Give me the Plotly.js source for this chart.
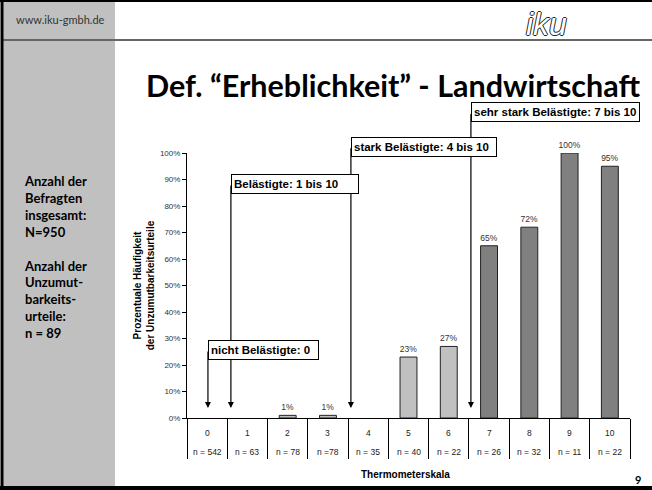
<!DOCTYPE html>
<html>
<head>
<meta charset="utf-8">
<script src="https://cdn.plot.ly/plotly-3.0.1.min.js"></script>
<style>
  html, body { margin: 0; padding: 0; background: #ffffff; }
  #chart { width: 652px; height: 490px; }
</style>
</head>
<body>
<div id="chart"></div>
<script>
// ---- data ----
const categories = ['0', '1', '2', '3', '4', '5', '6', '7', '8', '9', '10'];
const values = [0, 0, 1, 1, 0, 23, 27, 65, 72, 100, 95];
const sampleSizes = ['n = 542', 'n = 63', 'n = 78', 'n =78', 'n = 35', 'n = 40', 'n = 22', 'n = 26', 'n = 32', 'n = 11', 'n = 22'];
const groupLabels = ['nicht Belästigte: 0', 'Belästigte: 1 bis 10', 'stark Belästigte: 4 bis 10', 'sehr stark Belästigte: 7 bis 10'];
const yTicks = [0, 10, 20, 30, 40, 50, 60, 70, 80, 90, 100];
const yTickLabels = ['0%', '10%', '20%', '30%', '40%', '50%', '60%', '70%', '80%', '90%', '100%'];
const titleText = 'Def. “Erheblichkeit” - Landwirtschaft';
const yTitle = 'Prozentuale Häufigkeit<br>der Unzumutbarkeitsurteile';
const xTitle = 'Thermometerskala';
const sideText = 'Anzahl der<br>Befragten<br>insgesamt:<br>N=950<br><br>Anzahl der<br>Unzumut-<br>barkeits-<br>urteile:<br>n = 89';
const siteText = 'www.iku-gmbh.de';
const pageNo = '9';

// ---- layout constants (positions / styles) ----
const W = 652, H = 490;
const M = { l: 187, r: 22, t: 153, b: 72 };
const PW = W - M.l - M.r, PH = H - M.t - M.b;
const fx = px => (px - M.l) / PW;
const fy = py => (H - M.b - py) / PH;

const arrowX = [0.02, 0.59, 3.57, 6.55];      // arrow positions in category units
const boxY = [25.7, 88.3, 102.4, 115.3];      // box centres in % of the y range
const boxW = [111, 128, 146, 169];            // box widths in px
const arrowTipY = 3.8;

const SANS = 'Liberation Sans, Arial, sans-serif';
const SERIF = 'Lato, Noto Sans, sans-serif';
const light = '#C0C0C0', dark = '#808080';

const trace = {
  type: 'bar',
  x: categories,
  y: values,
  text: values.map(v => v > 0 ? v + '%' : ''),
  textposition: 'outside',
  constraintext: 'none',
  textfont: { family: SANS, size: 8.5, color: '#333333' },
  cliponaxis: false,
  width: 0.42,
  marker: {
    color: categories.map((c, i) => i >= 7 ? dark : light),
    line: { color: '#222222', width: values.map(v => v > 0 ? 1 : 0) }
  },
  hoverinfo: 'skip'
};

const annotations = [];
// arrows
groupLabels.forEach((g, i) => {
  annotations.push({
    x: arrowX[i], y: arrowTipY, xref: 'x', yref: 'y',
    ax: arrowX[i], ay: boxY[i], axref: 'x', ayref: 'y',
    text: '', showarrow: true, arrowhead: 2, arrowsize: 1, arrowwidth: 1.2,
    arrowcolor: '#000000', standoff: 0, startstandoff: 0
  });
});
// boxes
groupLabels.forEach((g, i) => {
  annotations.push({
    x: arrowX[i], y: boxY[i] / 100, xref: 'x', yref: 'paper',
    xanchor: 'left', yanchor: 'middle', align: 'left',
    text: '<b>' + g + '</b>', showarrow: false,
    width: boxW[i] - 6, height: 14,
    bgcolor: '#ffffff', bordercolor: '#000000', borderwidth: 1, borderpad: 2,
    font: { family: SANS, size: 11.5, color: '#000000' }
  });
});
// category table
categories.forEach((c, i) => {
  annotations.push({
    x: i, y: fy(433), xref: 'x', yref: 'paper', yanchor: 'middle',
    text: c, showarrow: false, font: { family: SANS, size: 8.5, color: '#222222' }
  });
  annotations.push({
    x: i, y: fy(452), xref: 'x', yref: 'paper', yanchor: 'middle',
    text: sampleSizes[i], showarrow: false, font: { family: SANS, size: 8.5, color: '#222222' }
  });
});
// x title
annotations.push({
  x: fx(405), y: fy(474), xref: 'paper', yref: 'paper', yanchor: 'middle',
  text: '<b>' + xTitle + '</b>', showarrow: false,
  font: { family: SANS, size: 10, color: '#000000' }
});
// slide title
annotations.push({
  x: fx(393), y: fy(85), xref: 'paper', yref: 'paper', yanchor: 'middle',
  text: '<b>' + titleText + '</b>', showarrow: false,
  font: { family: SERIF, size: 30.5, color: '#000000' }
});
// side panel text
annotations.push({
  x: fx(22), y: fy(171), xref: 'paper', yref: 'paper', xanchor: 'left', yanchor: 'top', align: 'left',
  text: '<b>' + sideText + '</b>', showarrow: false,
  font: { family: SERIF, size: 13, color: '#000000' }
});
// site text
annotations.push({
  x: fx(14), y: fy(20), xref: 'paper', yref: 'paper', xanchor: 'left', yanchor: 'middle',
  text: siteText, showarrow: false,
  font: { family: SERIF, size: 11, color: '#333333' }
});
// page number
annotations.push({
  x: fx(643), y: fy(479), xref: 'paper', yref: 'paper', yanchor: 'middle',
  text: '<b>' + pageNo + '</b>', showarrow: false,
  font: { family: SERIF, size: 11, color: '#000000' }
});
// logo
annotations.push({
  x: fx(569), y: fy(24), xref: 'paper', yref: 'paper', yanchor: 'middle',
  text: '<i>iku</i>', showarrow: false,
  font: { family: SANS, size: 32, color: '#ffffff', shadow: '1px 0 0 #222, -1px 0 0 #222, 0 1px 0 #222, 0 -1px 0 #222' }
});

const shapes = [
  { type: 'rect', xref: 'paper', yref: 'paper', x0: fx(3), x1: fx(115), y0: fy(2), y1: fy(487),
    fillcolor: '#C0C0C0', line: { width: 0 }, layer: 'below' },
  { type: 'line', xref: 'paper', yref: 'paper', x0: fx(3), x1: fx(652), y0: fy(40), y1: fy(40),
    line: { color: '#666666', width: 2 } },
  { type: 'line', xref: 'paper', yref: 'paper', x0: fx(0), x1: fx(652), y0: fy(1), y1: fy(1),
    line: { color: '#000000', width: 2 } },
  { type: 'line', xref: 'paper', yref: 'paper', x0: fx(2), x1: fx(2), y0: fy(0), y1: fy(490),
    line: { color: '#000000', width: 3 } },
  { type: 'line', xref: 'paper', yref: 'paper', x0: fx(0), x1: fx(652), y0: fy(488), y1: fy(488),
    line: { color: '#000000', width: 4 } }
];

const layout = {
  width: W, height: H,
  margin: M,
  paper_bgcolor: '#ffffff', plot_bgcolor: '#ffffff',
  showlegend: false,
  xaxis: {
    type: 'category', range: [-0.5, 10.5], fixedrange: true,
    showline: true, linecolor: '#000000', linewidth: 1,
    ticks: 'outside', tickson: 'boundaries', ticklen: 40, tickcolor: '#000000', tickwidth: 1,
    showticklabels: false, showgrid: false, zeroline: false
  },
  yaxis: {
    range: [0, 100], fixedrange: true,
    tickmode: 'array', tickvals: yTicks, ticktext: yTickLabels,
    ticks: 'outside', ticklen: 4, tickcolor: '#000000', tickwidth: 1,
    showline: true, linecolor: '#000000', linewidth: 1,
    showgrid: false, zeroline: false,
    tickfont: { family: SANS, size: 8, color: '#333333' },
    title: { text: '<b>' + yTitle + '</b>', standoff: 3, font: { family: SANS, size: 10, color: '#000000' } }
  },
  annotations: annotations,
  shapes: shapes
};

Plotly.newPlot('chart', [trace], layout, { displayModeBar: false, staticPlot: true });
</script>
</body>
</html>
